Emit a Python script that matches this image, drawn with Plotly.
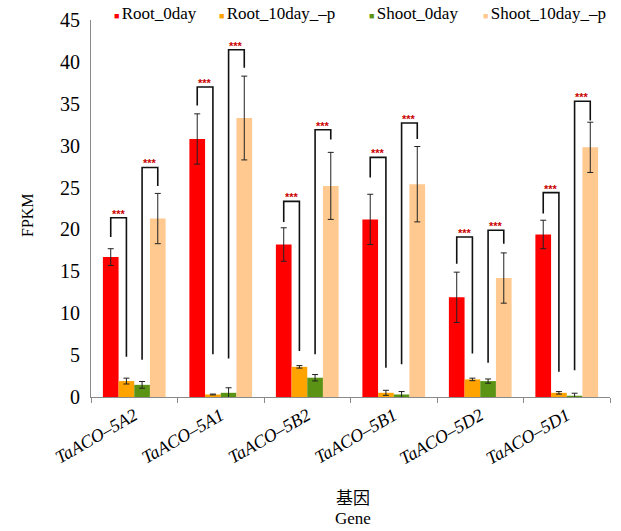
import plotly.graph_objects as go

# ---------------- data ----------------
genes = ["TaACO–5A2", "TaACO–5A1", "TaACO–5B2", "TaACO–5B1", "TaACO–5D2", "TaACO–5D1"]
series_names = ["Root_0day", "Root_10day_–p", "Shoot_0day", "Shoot_10day_–p"]

root_0day = [16.7, 30.8, 18.2, 21.2, 11.9, 19.4]
root_0day_err = [1.0, 3.0, 2.0, 3.0, 3.0, 1.7]
root_10day = [1.9, 0.3, 3.6, 0.5, 2.1, 0.5]
root_10day_err = [0.35, 0.05, 0.15, 0.3, 0.15, 0.15]
shoot_0day = [1.45, 0.5, 2.3, 0.3, 1.9, 0.15]
shoot_0day_err = [0.4, 0.6, 0.38, 0.35, 0.25, 0.3]
shoot_10day = [21.3, 33.3, 25.2, 25.4, 14.2, 29.8]
shoot_10day_err = [3.0, 5.0, 4.0, 4.5, 3.0, 3.0]

# significance brackets (values in FPKM units)
root_bracket_top = [21.4, 37.0, 23.35, 28.6, 19.1, 24.4]
root_bracket_left_end = [19.1, 34.8, 20.9, 26.2, 15.9, 21.9]
root_bracket_right_end = [4.8, 5.1, 5.5, 3.5, 5.2, 3.0]
shoot_bracket_top = [27.4, 41.45, 31.9, 32.7, 19.9, 35.3]
shoot_bracket_left_end = [4.45, 4.6, 5.1, 3.9, 4.1, 3.2]
shoot_bracket_right_end = [25.2, 39.3, 30.75, 30.8, 18.3, 33.0]
sig_label = "***"

y_ticks = [0, 5, 10, 15, 20, 25, 30, 35, 40, 45]

# ---------------- style ----------------
colors = ["#FF0000", "#FFA300", "#5B9414", "#FFC98F"]
SERIF = "Liberation Serif"
CJK = "Noto Sans CJK SC"
W, H = 621, 531
L, R, T, B = 91, 610, 20, 397
bargap = 0.275

values = [root_0day, root_10day, shoot_0day, shoot_10day]
errors = [root_0day_err, root_10day_err, shoot_0day_err, shoot_10day_err]

fig = go.Figure()
for name, vals, errs, col in zip(series_names, values, errors, colors):
    fig.add_trace(go.Bar(
        x=genes, y=vals, name=name,
        marker=dict(color=col, line=dict(width=0)),
        error_y=dict(type="data", array=errs, visible=True,
                     color="#222222", thickness=1, width=3),
        showlegend=False,
    ))

# bar centers within a group (category index units)
bw = (1 - bargap) / 4
offsets = [(k - 1.5) * bw for k in range(4)]

shapes = []
annotations = []
for i in range(len(genes)):
    pairs = [
        (0, 1, root_bracket_top[i], root_bracket_left_end[i], root_bracket_right_end[i]),
        (2, 3, shoot_bracket_top[i], shoot_bracket_left_end[i], shoot_bracket_right_end[i]),
    ]
    for a, b, top, le, re in pairs:
        xa = i + offsets[a]
        xb = i + offsets[b]
        shapes.append(dict(
            type="path", xref="x", yref="y",
            path=f"M {xa},{le} L {xa},{top} L {xb},{top} L {xb},{re}",
            line=dict(color="#111111", width=1.6),
        ))
        annotations.append(dict(
            x=(xa + xb) / 2, y=top, xref="x", yref="y",
            text=f"<b>{sig_label}</b>", showarrow=False,
            yanchor="bottom", yshift=-4,
            font=dict(size=11, color="#CC0000", family="Arial"),
        ))


def px_x(px):
    return (px - L) / (R - L)


def px_y(py):
    return (B - py) / (B - T)


# legend as text entries
legend_x = [112, 217, 367, 481]
for name, col, lx in zip(series_names, colors, legend_x):
    annotations.append(dict(
        x=px_x(lx), y=px_y(14), xref="paper", yref="paper",
        xanchor="left", yanchor="middle", showarrow=False,
        text=f"<span style='font-size:9px;color:{col}'>■ </span>{name}",
        font=dict(size=17, color="black", family=SERIF),
    ))

# axis titles
annotations.append(dict(
    x=px_x(28), y=px_y(215), xref="paper", yref="paper",
    text="FPKM", textangle=-90, showarrow=False,
    xanchor="center", yanchor="middle",
    font=dict(size=16, color="black", family=SERIF),
))
annotations.append(dict(
    x=px_x(353), y=px_y(497), xref="paper", yref="paper",
    text="基因", showarrow=False, xanchor="center", yanchor="middle",
    font=dict(size=17, color="black", family=CJK),
))
annotations.append(dict(
    x=px_x(353), y=px_y(518), xref="paper", yref="paper",
    text="Gene", showarrow=False, xanchor="center", yanchor="middle",
    font=dict(size=17, color="black", family=SERIF),
))

fig.update_layout(
    template="none",
    width=W, height=H,
    margin=dict(l=L, r=W - R, t=T, b=H - B, pad=0, autoexpand=False),
    paper_bgcolor="white", plot_bgcolor="white",
    barmode="group", bargap=bargap, bargroupgap=0,
    shapes=shapes, annotations=annotations,
    showlegend=False,
    font=dict(family=SERIF, color="black"),
)
fig.update_xaxes(
    type="category", categoryorder="array", categoryarray=genes,
    automargin=False,
    showline=True, linecolor="#8a8a8a", linewidth=1,
    ticks="outside", tickson="boundaries", ticklen=5, tickcolor="#8a8a8a",
    tickangle=-30, showgrid=False, zeroline=False,
    tickfont=dict(size=18, family=SERIF, style="italic", color="black"),
)
fig.update_yaxes(
    range=[0, 45], tickvals=y_ticks, ticktext=[str(v) for v in y_ticks],
    automargin=False,
    showline=True, linecolor="#8a8a8a", linewidth=1,
    ticks="", showgrid=False, zeroline=False, ticklabelstandoff=6,
    tickfont=dict(size=20, family=SERIF, color="black"),
)

fig.write_html(
    "out.html",
    config={"displayModeBar": False, "staticPlot": True},
    post_script="document.body.style.margin='0px';document.body.style.overflow='hidden';",
)
